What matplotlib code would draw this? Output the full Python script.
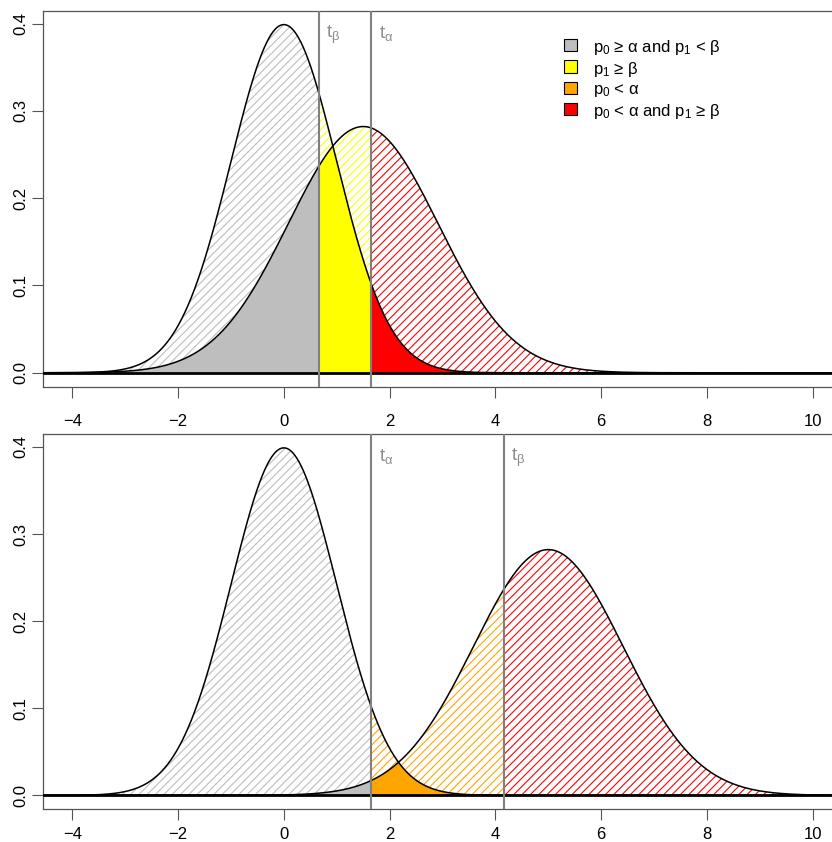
import numpy as np
import matplotlib
matplotlib.use("Agg")
import matplotlib.pyplot as plt
from matplotlib.patches import Rectangle
from matplotlib.transforms import blended_transform_factory

plt.rcParams['font.family'] = ['Liberation Sans', 'DejaVu Sans']
plt.rcParams['mathtext.fontset'] = 'custom'
plt.rcParams['mathtext.rm'] = 'Liberation Sans'
plt.rcParams['mathtext.it'] = 'Liberation Sans:italic'
plt.rcParams['mathtext.bf'] = 'Liberation Sans:bold'
plt.rcParams['hatch.linewidth'] = 0.8

# ---------------- data ----------------
null_mean = 0.0
null_sd = 1.0
alt_means = [1.5, 5.0]          # top, bottom panel
alt_sd = 1.414
t_alpha = [1.645, 1.645]
t_beta = [0.66, 4.16]

col_gray = '#BEBEBE'
col_yellow = '#FFFF00'
col_orange = '#FFA500'
col_red = '#FF0000'

legend_labels = ['p$_0$ ≥ α and p$_1$ < β', 'p$_1$ ≥ β', 'p$_0$ < α',
                 'p$_0$ < α and p$_1$ ≥ β']
legend_colors = [col_gray, col_yellow, col_orange, col_red]

x_ticks = [-4, -2, 0, 2, 4, 6, 8, 10]
y_ticks = [0.0, 0.1, 0.2, 0.3, 0.4]

XLIM = (-4.56, 10.56)
YLIM = (-0.01596, 0.41485)

W, H = 832, 842
fig = plt.figure(figsize=(W / 100, H / 100), dpi=100)


def npdf(x, m, s):
    return np.exp(-0.5 * ((x - m) / s) ** 2) / (s * np.sqrt(2 * np.pi))


def make_axes(top_px, bot_px):
    left_px, right_px = 42.7, 842.3
    return fig.add_axes([left_px / W, 1 - bot_px / H,
                         (right_px - left_px) / W, (bot_px - top_px) / H])


axes = [make_axes(10.7, 386.7), make_axes(434.0, 809.3)]
x_pads = [12.0, 5.5]

for i, ax in enumerate(axes):
    mu1 = alt_means[i]
    ta, tb = t_alpha[i], t_beta[i]
    if i == 0:
        segs = [(-6, tb, col_gray), (tb, ta, col_yellow), (ta, 12, col_red)]
    else:
        segs = [(-6, ta, col_gray), (ta, tb, col_orange), (tb, 12, col_red)]
    for a, b, c in segs:
        xs = np.linspace(a, b, 800)
        f0 = npdf(xs, null_mean, null_sd)
        f1 = npdf(xs, mu1, alt_sd)
        ax.fill_between(xs, 0, np.maximum(f0, f1), facecolor='none',
                        edgecolor=c, hatch='////', linewidth=0, zorder=1)
        ax.fill_between(xs, 0, np.minimum(f0, f1), facecolor=c,
                        edgecolor='none', linewidth=0, zorder=2)
    xx = np.linspace(-6, 12, 3000)
    ax.plot(xx, npdf(xx, null_mean, null_sd), color='black', lw=1.1, zorder=3)
    ax.plot(xx, npdf(xx, mu1, alt_sd), color='black', lw=1.1, zorder=3)
    ax.axhline(0, color='black', lw=2.0, zorder=4)
    for t in (ta, tb):
        ax.axvline(t, color='#808080', lw=1.5, zorder=5)
    tr = blended_transform_factory(ax.transData, ax.transAxes)
    ax.text(ta + 0.16, 0.928, r'$\mathregular{t_{\alpha}}$', color='#8c8c8c',
            fontsize=13.5, transform=tr, ha='left', va='baseline')
    ax.text(tb + 0.13, 0.928, r'$\mathregular{t_{\beta}}$', color='#8c8c8c',
            fontsize=13.5, transform=tr, ha='left', va='baseline')

    ax.set_xlim(*XLIM)
    ax.set_ylim(*YLIM)
    ax.set_xticks(x_ticks)
    ax.set_xticklabels([f'{v}' if v >= 0 else f'\u2212{abs(v)}' for v in x_ticks])
    ax.set_yticks(y_ticks)
    ax.set_yticklabels([f'{v:.1f}' for v in y_ticks], rotation=90,
                       va='center', ha='right')
    ax.tick_params(axis='both', direction='out', length=7.6, width=0.8,
                   color='#555555', labelsize=12, labelcolor='black')
    ax.tick_params(axis='x', pad=x_pads[i])
    ax.tick_params(axis='y', pad=3)
    for sp in ax.spines.values():
        sp.set_color('#555555')
        sp.set_linewidth(0.9)

# legend (top panel, no frame)
leg_y = [45.0, 66.7, 87.7, 109.0]
sq = 12.4
for lab, c, yc in zip(legend_labels, legend_colors, leg_y):
    fig.add_artist(Rectangle(((570.5 - sq / 2) / W, 1 - (yc + sq / 2) / H),
                             sq / W, sq / H, transform=fig.transFigure,
                             facecolor=c, edgecolor='black', lw=0.8))
    fig.text(592.7 / W, 1 - yc / H, lab, fontsize=12, ha='left',
             va='center_baseline')

fig.savefig('out.png', dpi=100)
